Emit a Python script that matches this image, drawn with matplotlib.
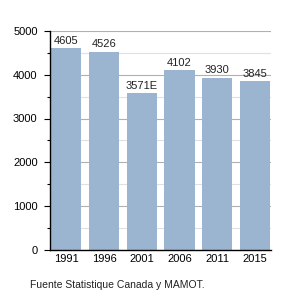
import matplotlib.pyplot as plt
from matplotlib.ticker import MultipleLocator

plt.rcParams['font.family'] = ['Liberation Sans', 'DejaVu Sans']

years = ['1991', '1996', '2001', '2006', '2011', '2015']
population = [4605, 4526, 3571, 4102, 3930, 3845]
bar_labels = ['4605', '4526', '3571E', '4102', '3930', '3845']

fig = plt.figure(figsize=(3, 3), dpi=100)
ax = fig.add_axes([0.167, 0.167, 0.736, 0.73])

x = range(len(years))
ax.bar(x, population, width=0.8, color='#9bb4cf', zorder=2)

for xi, v, lab in zip(x, population, bar_labels):
    ax.text(xi, v + 60, lab, ha='center', va='bottom', fontsize=8, color='#222222')

ax.set_xlim(-0.43, 5.42)
ax.set_ylim(0, 5000)
ax.set_xticks(list(x))
ax.set_xticklabels(years, fontsize=8)
ax.yaxis.set_major_locator(MultipleLocator(1000))
ax.yaxis.set_minor_locator(MultipleLocator(500))
ax.tick_params(axis='y', labelsize=8, length=4, width=0.8, pad=5)
ax.tick_params(axis='y', which='minor', length=2.5, width=0.8)
ax.tick_params(axis='x', length=0, pad=3)
ax.grid(axis='y', which='major', color='#b0b0b0', linewidth=0.8, zorder=0)
ax.grid(axis='y', which='minor', color='#e0e0e0', linewidth=0.8, zorder=0)

for side in ['top', 'right']:
    ax.spines[side].set_visible(False)
ax.spines['left'].set_linewidth(1.0)
ax.spines['bottom'].set_linewidth(1.0)

fig.text(0.1, 0.04, 'Fuente Statistique Canada y MAMOT.', fontsize=7.5, color='#222222')

fig.savefig('out.png', dpi=100)
